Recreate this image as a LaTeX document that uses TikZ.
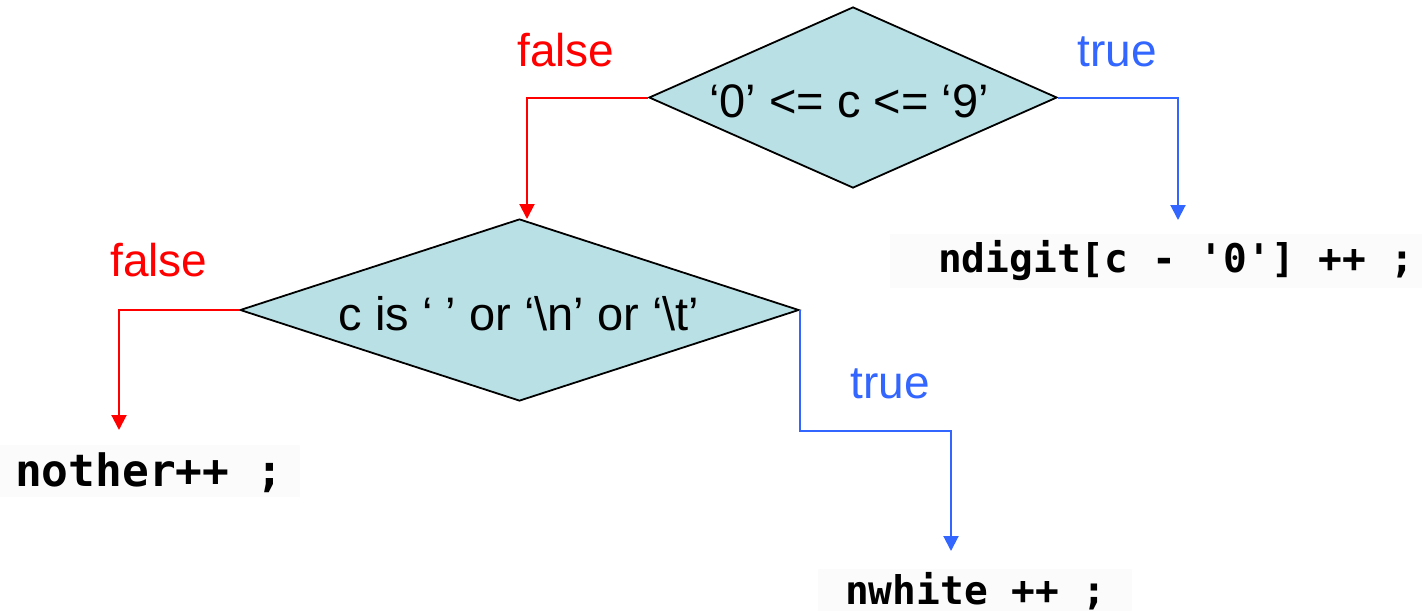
\documentclass[tikz,border=0pt]{standalone}
\usepackage{fontspec}
\setmainfont{Liberation Sans}
\newfontfamily\codefont{DejaVu Sans Mono}[Ligatures=TeXOff]
\usetikzlibrary{shapes.geometric,arrows.meta}
\definecolor{dfill}{RGB}{185,224,228}
\definecolor{fred}{RGB}{255,0,0}
\definecolor{tblue}{RGB}{51,102,255}
\definecolor{codebg}{RGB}{251,251,251}
\tikzset{
  decision/.style={diamond, draw=black, line width=1.8pt, fill=dfill, inner sep=0pt},
  dtext/.style={font=\fontsize{47}{56}\selectfont, anchor=base, inner sep=0pt},
  lbl/.style={font=\fontsize{46}{55}\selectfont, anchor=base, inner sep=0pt},
  codebox/.style={fill=codebg, inner sep=0pt},
  codetext/.style={anchor=base west, inner sep=0pt},
  falsearrow/.style={draw=fred, line width=2pt, -{Triangle[width=15pt,length=15pt]}},
  truearrow/.style={draw=tblue, line width=2pt, -{Triangle[width=15pt,length=15pt]}},
}
\begin{document}
\begin{tikzpicture}[x=1pt,y=-1pt]
\useasboundingbox (0,0) rectangle (1422,611);
% decisions
\node[decision, minimum width=408pt, minimum height=181pt] (d1) at (853,97.5) {};
\node[dtext] (d1t) at (849,117) {‘0’ <= c <= ‘9’};
\node[decision, minimum width=559pt, minimum height=182pt] (d2) at (519.5,310) {};
\node[dtext] (d2t) at (519,330) {c is ‘ ’ or ‘\textbackslash n’ or ‘\textbackslash t’};
% code boxes
\node[codebox, minimum width=532pt, minimum height=54pt] (ndigbox) at (1156,261) {};
\node[codetext, font=\codefont\bfseries\fontsize{39.5}{48}\selectfont] (ndig) at (938,272) {ndigit[c - '0'] ++ ;};
\node[codebox, minimum width=300pt, minimum height=52pt] (nothbox) at (150,471) {};
\node[codetext, font=\codefont\bfseries\fontsize{44.5}{54}\selectfont] (noth) at (15,486) {nother++ ;};
\node[codebox, minimum width=314pt, minimum height=42pt] (nwhbox) at (975,590) {};
\node[codetext, font=\codefont\bfseries\fontsize{39.5}{49}\selectfont] (nwh) at (845,604) {nwhite ++ ;};
% labels
\node[lbl, text=fred] (f1) at (566,66) {false};
\node[lbl, text=tblue] (t1) at (1117,66) {true};
\node[lbl, text=fred] (f2) at (159,276) {false};
\node[lbl, text=tblue] (t2) at (890,398) {true};
% arrow ends
\coordinate (e1) at (527,219);
\coordinate (e2) at (1178,220);
\coordinate (e3) at (119,430);
\coordinate (b4) at (951,431);
\coordinate (e4) at (951,551);
% connectors
\draw[falsearrow] (d1.west) -| (e1);
\draw[truearrow] (d1.east) -| (e2);
\draw[falsearrow] (d2.west) -| (e3);
\draw[truearrow] (d2.east) |- (b4) -- (e4);
\end{tikzpicture}
\end{document}
